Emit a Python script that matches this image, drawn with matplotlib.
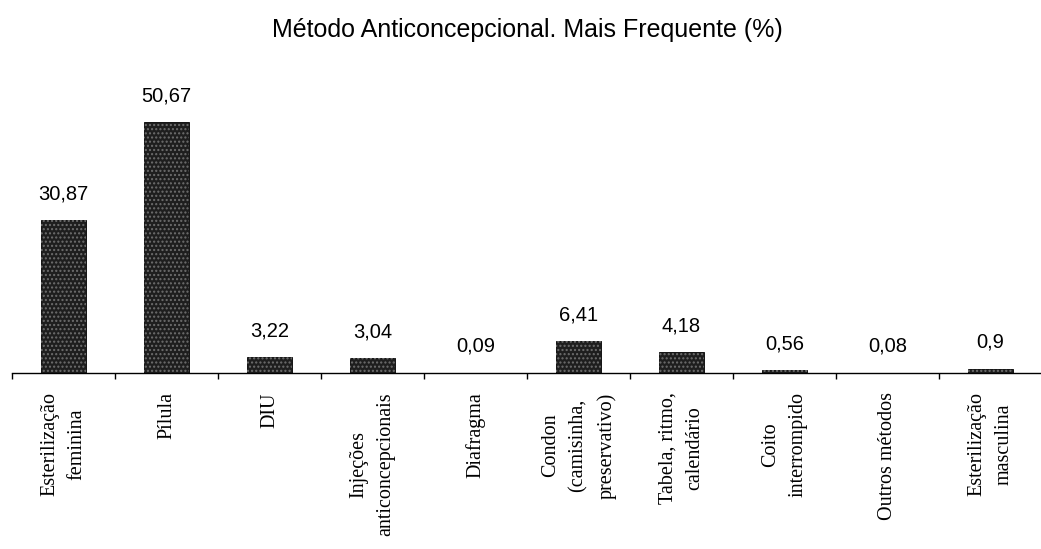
import numpy as np
import matplotlib.pyplot as plt

# data
categorias = ['Esterilização\nfeminina', 'Pílula', 'DIU', 'Injeções\nanticoncepcionais',
              'Diafragma', 'Condon\n(camisinha,\npreservativo)', 'Tabela, ritmo,\ncalendário',
              'Coito\ninterrompido', 'Outros métodos', 'Esterilização\nmasculina']
valores = [30.87, 50.67, 3.22, 3.04, 0.09, 6.41, 4.18, 0.56, 0.08, 0.9]
rotulos = ['30,87', '50,67', '3,22', '3,04', '0,09', '6,41', '4,18', '0,56', '0,08', '0,9']

fig = plt.figure(figsize=(10.41, 5.49), dpi=100)
ax = fig.add_axes([12/1041, 1 - 373/549, 1030/1041, 297/549])

x = np.arange(len(valores))
ax.bar(x, valores, width=0.43, color='#1e1e1e', edgecolor='black', linewidth=0.6)
# stipple texture of the scanned bars
ax.bar(x, valores, width=0.43, color='none', edgecolor='#6e6e6e', linewidth=0, hatch='....')

for xi, v, r in zip(x, valores, rotulos):
    ax.annotate(r, (xi, v), xytext=(0, 19), textcoords='offset points',
                ha='center', va='center', fontsize=14.5, family='Liberation Sans')

ax.set_xlim(-0.5, len(valores) - 0.5)
ax.set_ylim(0, 60)

for s in ['top', 'right', 'left']:
    ax.spines[s].set_visible(False)
ax.spines['bottom'].set_linewidth(1.0)
ax.set_yticks([])

ax.set_xticks(np.arange(len(valores) + 1) - 0.5)
ax.set_xticklabels([])
ax.tick_params(axis='x', which='major', direction='out', length=4, width=1.0)
ax.set_xticks(x, minor=True)
ax.set_xticklabels(categorias, minor=True, rotation=90, ha='center', va='top',
                   multialignment='center', linespacing=1.6,
                   fontsize=14.5, family='Liberation Serif')
ax.tick_params(axis='x', which='minor', length=0, pad=14)

fig.text(0.507, 1 - 30/549, 'Método Anticoncepcional. Mais Frequente (%)',
         ha='center', va='center', fontsize=18, family='Liberation Sans')

plt.savefig('out.png', dpi=100)
